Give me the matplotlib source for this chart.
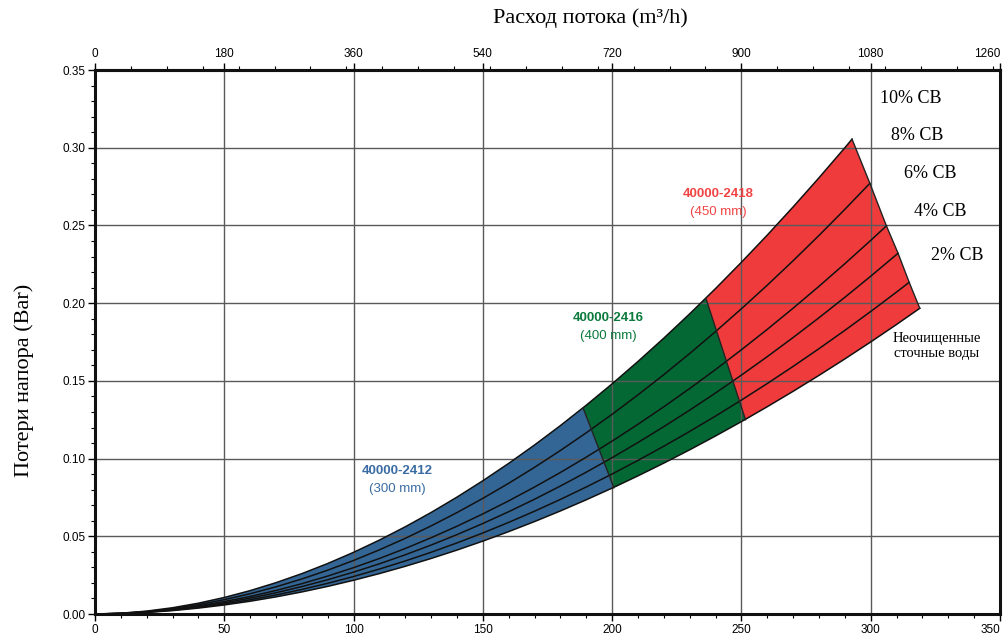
"""Head loss vs flow chart for 40000-24xx screens (recreated)."""

import matplotlib
matplotlib.use("Agg")
import matplotlib.pyplot as plt
from matplotlib.patches import Polygon
from matplotlib.ticker import MultipleLocator, FixedLocator, FormatStrFormatter, FuncFormatter

# flow, l/s (bottom axis); top axis is m3/h = l/s * 3.6
FLOW = [0, 10, 20, 30, 40, 50, 60, 70, 80, 90, 100, 110, 120, 130, 140, 150,
        160, 170, 180, 190, 200, 210, 220, 230, 240, 250, 260, 270, 280, 290, 300, 310]

# head loss, bar at the FLOW points
HEAD_10 = [0, 0.00050, 0.00186, 0.00403, 0.00696, 0.01063, 0.01503, 0.02015, 0.02596, 0.03248,
           0.03967, 0.04755, 0.05610, 0.06531, 0.07519, 0.08572, 0.09690, 0.10873, 0.12121, 0.13432,
           0.14807, 0.16246, 0.17747, 0.19310, 0.20937, 0.22627, 0.24376, 0.26188, 0.28062, 0.29996]
HEAD_8 = [0, 0.00043, 0.00162, 0.00350, 0.00604, 0.00923, 0.01305, 0.01748, 0.02253, 0.02818,
          0.03443, 0.04127, 0.04868, 0.05668, 0.06525, 0.07439, 0.08410, 0.09436, 0.10519, 0.11657,
          0.12850, 0.14099, 0.15401, 0.16758, 0.18170, 0.19637, 0.21155, 0.22727, 0.24353, 0.26032]
HEAD_6 = [0, 0.00038, 0.00140, 0.00303, 0.00523, 0.00799, 0.01129, 0.01514, 0.01951, 0.02440,
          0.02981, 0.03572, 0.04215, 0.04907, 0.05648, 0.06440, 0.07280, 0.08169, 0.09106, 0.10091,
          0.11124, 0.12205, 0.13333, 0.14507, 0.15730, 0.16999, 0.18313, 0.19674, 0.21082, 0.22535,
          0.24035]
HEAD_4 = [0, 0.00034, 0.00127, 0.00274, 0.00473, 0.00722, 0.01021, 0.01368, 0.01764, 0.02206,
          0.02695, 0.03230, 0.03810, 0.04436, 0.05107, 0.05822, 0.06582, 0.07385, 0.08233, 0.09124,
          0.10057, 0.11035, 0.12054, 0.13116, 0.14221, 0.15369, 0.16557, 0.17788, 0.19060, 0.20374,
          0.21730]
HEAD_2 = [0, 0.00030, 0.00113, 0.00245, 0.00423, 0.00647, 0.00914, 0.01225, 0.01579, 0.01976,
          0.02413, 0.02893, 0.03413, 0.03973, 0.04574, 0.05214, 0.05895, 0.06614, 0.07373, 0.08171,
          0.09007, 0.09882, 0.10795, 0.11747, 0.12736, 0.13764, 0.14828, 0.15930, 0.17070, 0.18247,
          0.19461, 0.20712]
HEAD_RAW = [0, 0.00027, 0.00102, 0.00220, 0.00381, 0.00582, 0.00822, 0.01102, 0.01420, 0.01777,
            0.02171, 0.02601, 0.03069, 0.03573, 0.04113, 0.04689, 0.05301, 0.05948, 0.06631, 0.07349,
            0.08101, 0.08888, 0.09709, 0.10564, 0.11454, 0.12378, 0.13336, 0.14327, 0.15352, 0.16410,
            0.17502, 0.18627]

# end of each curve (max flow of the largest screen)
END_FLOW = [292.8, 299.7, 306.1, 310.6, 314.9, 319.0]
END_HEAD = [0.3055, 0.2771, 0.2497, 0.2321, 0.2134, 0.1967]

# borders between screen sizes: (flow, head) on top curve and bottom curve
BORDER_2412 = [(188.8, 0.1325), (200.7, 0.0812)]
BORDER_2416 = [(236.3, 0.2030), (251.6, 0.1250)]

MODELS = ["40000-2412", "40000-2416", "40000-2418"]
SIZES = ["(300 mm)", "(400 mm)", "(450 mm)"]
FILL_COLORS = ["#346695", "#046834", "#ef3b3b"]
TEXT_COLORS = ["#3a6ca3", "#0b7a3d", "#f04444"]
LABEL_POS = [(117, 0.092), (198.5, 0.1905), (241, 0.2703)]

CB_LABELS = ["10% СВ", "8% СВ", "6% СВ", "4% СВ", "2% СВ"]
CB_POS = [(315.5, 0.3314), (317.9, 0.3076), (322.9, 0.2831), (327.1, 0.2587), (333.3, 0.2304)]
RAW_LABEL = "Неочищенные\nсточные воды"

X_MAX = 350
TOP_MAX = 1260

SERIF = "Liberation Serif"
SANS = "Liberation Sans"


def curve_xy(heads, end_x, end_y):
    xs = FLOW[:len(heads)] + [end_x]
    ys = heads + [end_y]
    return xs, ys


def between(xs, ys, lo, hi):
    return [(x, y) for x, y in zip(xs, ys) if lo < x < hi]


def main() -> None:
    plt.rcParams["font.family"] = SANS

    curves = [
        curve_xy(h, ex, ey)
        for h, ex, ey in zip([HEAD_10, HEAD_8, HEAD_6, HEAD_4, HEAD_2, HEAD_RAW], END_FLOW, END_HEAD)
    ]
    top_x, top_y = curves[0]
    bot_x, bot_y = curves[-1]

    fig = plt.figure(figsize=(10.08, 6.4), dpi=100)
    ax = fig.add_axes([0.0942, 0.0406, 0.8978, 0.85])

    # filled bands for the three screen sizes
    b1t, b1b = BORDER_2412
    b2t, b2b = BORDER_2416
    top_end = (END_FLOW[0], END_HEAD[0])
    bot_end = (END_FLOW[-1], END_HEAD[-1])
    polys = [
        [(0, 0)] + between(top_x, top_y, 0, b1t[0]) + [b1t, b1b]
        + between(bot_x, bot_y, 0, b1b[0])[::-1],
        [b1t] + between(top_x, top_y, b1t[0], b2t[0]) + [b2t, b2b]
        + between(bot_x, bot_y, b1b[0], b2b[0])[::-1] + [b1b],
        [b2t] + between(top_x, top_y, b2t[0], top_end[0]) + [top_end]
        + list(zip(END_FLOW[1:-1], END_HEAD[1:-1])) + [bot_end]
        + between(bot_x, bot_y, b2b[0], bot_end[0])[::-1] + [b2b],
    ]
    for pts, color in zip(polys, FILL_COLORS):
        ax.add_patch(Polygon(pts, closed=True, facecolor=color, edgecolor="none", zorder=1))

    for xs, ys in curves:
        ax.plot(xs, ys, color="#111111", lw=1.1, zorder=3)
    for border in (BORDER_2412, BORDER_2416):
        ax.plot([p[0] for p in border], [p[1] for p in border], color="#222222", lw=1.0, zorder=3)
    ax.plot(END_FLOW, END_HEAD, color="#222222", lw=1.0, zorder=3)

    for (x, y), model, size, color in zip(LABEL_POS, MODELS, SIZES, TEXT_COLORS):
        ax.text(x, y, model, ha="center", va="center", fontsize=9.5, fontweight="bold",
                color=color, family=SANS, zorder=4)
        ax.text(x, y - 0.0115, size, ha="center", va="center", fontsize=9.5,
                color=color, family=SANS, zorder=4)

    for (x, y), label in zip(CB_POS, CB_LABELS):
        ax.text(x, y, label, ha="center", va="center", fontsize=13, family=SERIF, zorder=4)
    ax.text(325.5, 0.1725, RAW_LABEL, ha="center", va="center", fontsize=10.5,
            family=SERIF, linespacing=1.2, zorder=4)

    ax.set_xlim(0, X_MAX)
    ax.set_ylim(0, 0.35)
    ax.xaxis.set_major_locator(MultipleLocator(50))
    ax.xaxis.set_minor_locator(MultipleLocator(10))
    # last label is drawn right-aligned below, so it stays inside the figure
    ax.xaxis.set_major_formatter(FuncFormatter(lambda v, _: "" if v >= X_MAX else f"{v:.0f}"))
    ax.yaxis.set_major_locator(MultipleLocator(0.05))
    ax.yaxis.set_minor_locator(MultipleLocator(0.01))
    ax.yaxis.set_major_formatter(FormatStrFormatter("%.2f"))
    ax.grid(True, which="major", color="#5a5a5a", lw=1.0)
    ax.tick_params(which="major", direction="out", length=5, width=1, labelsize=8.5, pad=2)
    ax.tick_params(which="minor", direction="out", length=3, width=0.8)
    for sp in ax.spines.values():
        sp.set_linewidth(2.2)
        sp.set_color("#111111")

    top = ax.secondary_xaxis("top", functions=(lambda v: v * 3.6, lambda v: v / 3.6))
    top.xaxis.set_major_locator(FixedLocator(list(range(0, TOP_MAX + 1, 180))))
    top.xaxis.set_minor_locator(FixedLocator(list(range(0, TOP_MAX + 1, 50))))
    top.xaxis.set_major_formatter(FuncFormatter(lambda v, _: "" if v >= TOP_MAX - 1 else f"{v:.0f}"))
    top.tick_params(which="major", direction="out", length=5, width=1, labelsize=8.5, pad=2)
    top.tick_params(which="minor", direction="out", length=3, width=0.8)
    top.spines["top"].set_linewidth(2.2)

    ax.annotate(str(X_MAX), xy=(1, 0), xycoords="axes fraction", xytext=(0, -7),
                textcoords="offset points", ha="right", va="top", fontsize=8.5, family=SANS)
    ax.annotate(str(TOP_MAX), xy=(1, 1), xycoords="axes fraction", xytext=(0, 7),
                textcoords="offset points", ha="right", va="bottom", fontsize=8.5, family=SANS)

    fig.text(590 / 1008, 1 - 18 / 640, "Расход потока (m³/h)", fontsize=16, family=SERIF,
             ha="center", va="center")
    fig.text(24 / 1008, 1 - 380 / 640, "Потери напора (Bar)", fontsize=16, family=SERIF,
             ha="center", va="center", rotation=90)

    fig.savefig("out.png", dpi=100)
    plt.close(fig)


if __name__ == "__main__":
    main()
